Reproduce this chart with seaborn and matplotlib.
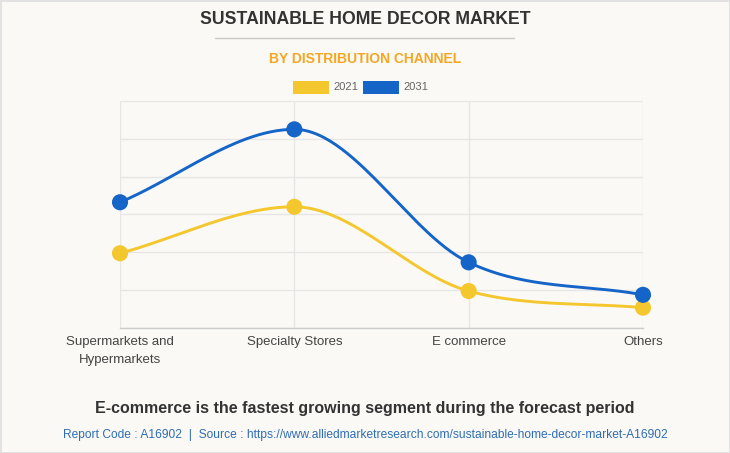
import numpy as np
import pandas as pd
import matplotlib
matplotlib.use("Agg")
import matplotlib.pyplot as plt
import seaborn as sns
from matplotlib.patches import Rectangle

categories = ["Supermarkets and\nHypermarkets", "Specialty Stores", "E commerce", "Others"]
values_2021 = [1.97, 3.20, 0.97, 0.53]
values_2031 = [3.32, 5.25, 1.73, 0.87]
years = ["2021", "2031"]
colors = {"2021": "#F5C72F", "2031": "#1565C8"}

df = pd.DataFrame({
    "x": list(range(len(categories))) * 2,
    "value": values_2021 + values_2031,
    "year": ["2021"] * len(categories) + ["2031"] * len(categories),
})


def monotone_curve(xs, ys, n=60):
    xs = np.asarray(xs, float)
    ys = np.asarray(ys, float)
    k = len(xs)
    d = np.diff(ys) / np.diff(xs)
    m = np.zeros(k)
    m[0] = d[0]
    m[-1] = d[-1]
    for i in range(1, k - 1):
        m[i] = 0.0 if d[i - 1] * d[i] <= 0 else (d[i - 1] + d[i]) / 2
    for i in range(k - 1):
        if d[i] == 0:
            m[i] = m[i + 1] = 0
            continue
        a = m[i] / d[i]
        b = m[i + 1] / d[i]
        s = a * a + b * b
        if s > 9:
            t = 3 / np.sqrt(s)
            m[i] = a * t * d[i]
            m[i + 1] = b * t * d[i]
    outx, outy = [], []
    for i in range(k - 1):
        h = xs[i + 1] - xs[i]
        t = np.linspace(0, 1, n)
        h00 = 2 * t**3 - 3 * t**2 + 1
        h10 = t**3 - 2 * t**2 + t
        h01 = -2 * t**3 + 3 * t**2
        h11 = t**3 - t**2
        outx.append(xs[i] + t * h)
        outy.append(h00 * ys[i] + h10 * h * m[i] + h01 * ys[i + 1] + h11 * h * m[i + 1])
    return np.concatenate(outx), np.concatenate(outy)


bg = "#FAF9F5"
sns.set_theme(style="white")
plt.rcParams["font.family"] = ["Liberation Sans", "DejaVu Sans"]

fig = plt.figure(figsize=(7.3, 4.53), dpi=100, facecolor=bg,
                 edgecolor="#E2E2E2", linewidth=2)
ax = fig.add_axes([120 / 730, 1 - 327.7 / 453, (643 - 120) / 730, (327.7 - 101) / 453])
ax.set_facecolor(bg)

for yr in years:
    sub = df[df["year"] == yr]
    cx, cy = monotone_curve(sub["x"], sub["value"])
    curve = pd.DataFrame({"x": cx, "value": cy})
    sns.lineplot(data=curve, x="x", y="value", ax=ax, color=colors[yr],
                 linewidth=2.1, sort=False, estimator=None, zorder=3)

sns.scatterplot(data=df, x="x", y="value", hue="year", palette=colors, ax=ax,
                s=135, edgecolor="none", legend=False, zorder=4, clip_on=False)

ax.set_xlim(0, 3)
ax.set_ylim(0, 6)
ax.set_yticks(np.arange(0, 7, 1))
ax.set_xticks(range(len(categories)))
ax.set_xticklabels(categories, fontsize=9.5, color="#444444", linespacing=1.65)
ax.set_yticklabels([])
ax.set_xlabel("")
ax.set_ylabel("")
ax.grid(True, color="#E6E6E6", linewidth=1)
ax.tick_params(axis="y", length=9, color="#E6E6E6", width=1, direction="out")
ax.tick_params(axis="x", length=4, color="#E6E6E6", width=1, pad=2)
for sp in ["top", "right", "left"]:
    ax.spines[sp].set_visible(False)
ax.spines["bottom"].set_color("#CCCCCC")
ax.spines["bottom"].set_linewidth(1)

fig.text(0.5, 1 - 20 / 453, "SUSTAINABLE HOME DECOR MARKET", ha="center", va="center",
         fontsize=12.7, fontweight="bold", color="#333333")
fig.add_artist(plt.Line2D([215 / 730, 514 / 730], [1 - 37.5 / 453] * 2,
                          color="#C8C8C8", linewidth=1))
fig.text(0.5, 1 - 59 / 453, "BY DISTRIBUTION CHANNEL", ha="center", va="center",
         fontsize=10, fontweight="bold", color="#F5A623")

leg_y = 1 - 87.5 / 453
for x0, yr in [(293, "2021"), (363, "2031")]:
    fig.add_artist(Rectangle((x0 / 730, leg_y - 6.5 / 453), 36 / 730, 13 / 453,
                             facecolor=colors[yr], edgecolor="none"))
    fig.text((x0 + 40) / 730, leg_y, yr, ha="left", va="center", fontsize=8,
             color="#666666")

fig.text(0.5, 1 - 408 / 453,
         "E-commerce is the fastest growing segment during the forecast period",
         ha="center", va="center", fontsize=11.5, fontweight="bold", color="#333333")
fig.text(0.5, 1 - 435 / 453,
         "Report Code : A16902  |  Source : https://www.alliedmarketresearch.com/sustainable-home-decor-market-A16902",
         ha="center", va="center", fontsize=8.65, color="#2F6DB5")

fig.savefig("out.png", dpi=100, facecolor=bg, edgecolor="#E2E2E2")
